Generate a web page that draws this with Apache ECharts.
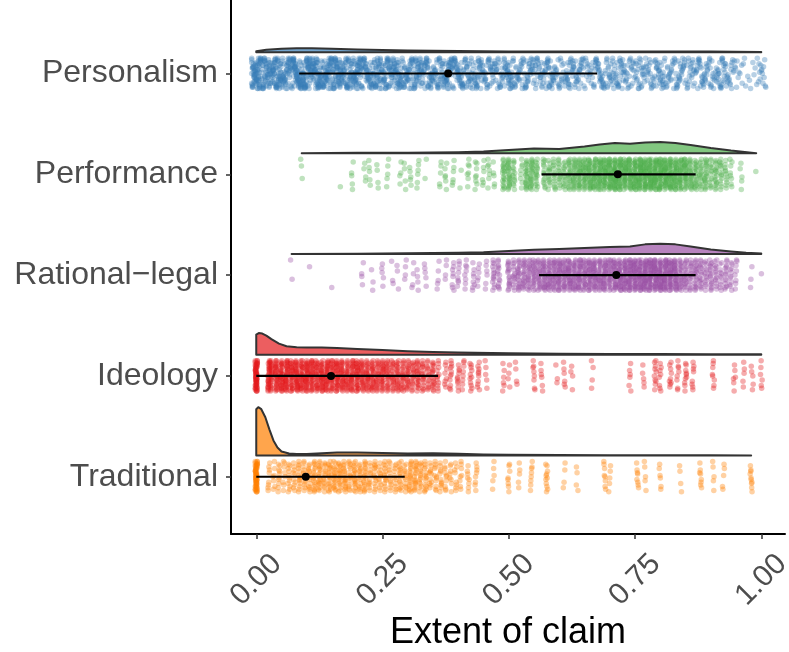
<!DOCTYPE html>
<html>
<head>
<meta charset="utf-8">
<script src="https://cdn.jsdelivr.net/npm/echarts@6/dist/echarts.min.js"></script>
<style>
  html, body { margin: 0; padding: 0; background: #fff; }
  #main { width: 789px; height: 652px; }
</style>
</head>
<body>
<div id="main"></div>
<script>
// categories, top to bottom
var categories = ['Personalism', 'Performance', 'Rational\u2212legal', 'Ideology', 'Traditional'];
var colors = ['#377EB8', '#4DAF4A', '#984EA3', '#E41A1C', '#FF7F00'];
var xTicks = [0, 0.25, 0.5, 0.75, 1];

// mean and interval per category
var means = [0.38, 0.716, 0.713, 0.148, 0.098];
var lower = [0.085, 0.565, 0.56, 0.0, 0.0];
var upper = [0.675, 0.87, 0.87, 0.36, 0.294];

// density outlines (x grid + density)
var persDensX = [0, 0.02, 0.05, 0.08, 0.11, 0.15, 0.2, 0.25, 0.3, 0.4, 0.5, 0.6, 0.7, 0.8, 0.9, 0.95, 1.0];
var persDens = [0.1, 0.25, 0.35, 0.4, 0.4, 0.35, 0.28, 0.22, 0.17, 0.12, 0.09, 0.07, 0.08, 0.09, 0.08, 0.06, 0.03];
var perfDensX = [0.09, 0.2, 0.3, 0.4, 0.45, 0.5, 0.55, 0.6, 0.65, 0.68, 0.71, 0.74, 0.77, 0.8, 0.83, 0.86, 0.9, 0.94, 0.99];
var perfDens = [0, 0.03, 0.05, 0.1, 0.15, 0.3, 0.45, 0.4, 0.65, 0.85, 1.0, 0.92, 1.05, 1.1, 1.0, 0.8, 0.5, 0.25, 0];
var ratDensX = [0.07, 0.2, 0.3, 0.4, 0.45, 0.5, 0.55, 0.6, 0.65, 0.7, 0.74, 0.77, 0.8, 0.83, 0.86, 0.9, 0.94, 0.97, 1.0];
var ratDens = [0, 0.03, 0.06, 0.12, 0.18, 0.3, 0.42, 0.5, 0.6, 0.68, 0.75, 0.95, 1.02, 0.95, 0.75, 0.45, 0.25, 0.12, 0.05];
var ideoDensX = [0, 0.005, 0.012, 0.02, 0.03, 0.045, 0.06, 0.08, 0.1, 0.13, 0.16, 0.2, 0.25, 0.3, 0.35, 0.4, 0.5, 0.6, 0.7, 0.8, 0.9, 1.0];
var ideoDens = [2.0, 2.15, 2.1, 1.9, 1.55, 1.1, 0.85, 0.75, 0.73, 0.72, 0.68, 0.58, 0.46, 0.36, 0.28, 0.22, 0.15, 0.1, 0.08, 0.08, 0.06, 0.04];
var tradDensX = [0, 0.004, 0.01, 0.018, 0.026, 0.034, 0.042, 0.05, 0.065, 0.08, 0.1, 0.13, 0.16, 0.2, 0.25, 0.3, 0.35, 0.4, 0.45, 0.5, 0.6, 0.7, 0.8, 0.9, 0.98];
var tradDens = [4.6, 4.8, 4.6, 3.8, 2.6, 1.5, 0.8, 0.4, 0.2, 0.15, 0.16, 0.23, 0.3, 0.3, 0.25, 0.2, 0.22, 0.17, 0.11, 0.08, 0.06, 0.04, 0.03, 0.02, 0.01];

// raw observations: value and how many cases sit at it
var persVals = [0, 0.02, 0.04, 0.06, 0.08, 0.1, 0.12, 0.14, 0.16, 0.18, 0.2, 0.22, 0.24, 0.26, 0.28, 0.3, 0.32, 0.34, 0.36, 0.38, 0.4, 0.42, 0.44, 0.46, 0.48, 0.5, 0.52, 0.54, 0.56, 0.58, 0.6, 0.62, 0.64, 0.66, 0.68, 0.7, 0.72, 0.74, 0.76, 0.78, 0.8, 0.82, 0.84, 0.86, 0.88, 0.9, 0.92, 0.94, 0.96, 0.98, 1];
var persCounts = [70, 54, 60, 48, 64, 60, 58, 54, 58, 48, 54, 42, 48, 45, 48, 38, 45, 38, 35, 45, 38, 32, 35, 29, 26, 38, 26, 29, 26, 32, 22, 29, 26, 19, 29, 26, 29, 22, 26, 22, 29, 22, 26, 22, 26, 22, 29, 19, 10, 6, 16];
var perfVals = [0.09, 0.165, 0.19, 0.215, 0.225, 0.24, 0.26, 0.285, 0.295, 0.305, 0.32, 0.335, 0.365, 0.375, 0.39, 0.405, 0.42, 0.435, 0.45, 0.46, 0.47, 0.49, 0.5, 0.51, 0.525, 0.535, 0.545, 0.555, 0.57, 0.58, 0.59, 0.6, 0.61, 0.62, 0.63, 0.64, 0.65, 0.66, 0.67, 0.68, 0.69, 0.7, 0.71, 0.72, 0.73, 0.74, 0.75, 0.76, 0.77, 0.78, 0.79, 0.8, 0.81, 0.82, 0.83, 0.84, 0.85, 0.86, 0.87, 0.88, 0.89, 0.9, 0.91, 0.92, 0.93, 0.94, 0.96, 0.99];
var perfCounts = [3, 1, 5, 4, 5, 4, 5, 4, 4, 5, 6, 2, 5, 6, 6, 2, 7, 8, 6, 7, 5, 20, 22, 14, 8, 20, 22, 17, 14, 13, 14, 14, 15, 20, 22, 25, 25, 28, 28, 31, 31, 34, 36, 34, 31, 31, 34, 36, 36, 36, 36, 36, 34, 34, 31, 28, 28, 22, 20, 17, 20, 14, 17, 14, 11, 8, 5, 1];
var ratVals = [0.07, 0.106, 0.148, 0.21, 0.23, 0.25, 0.27, 0.28, 0.295, 0.31, 0.32, 0.335, 0.36, 0.375, 0.39, 0.4, 0.415, 0.43, 0.44, 0.455, 0.47, 0.48, 0.5, 0.51, 0.52, 0.53, 0.54, 0.55, 0.56, 0.57, 0.58, 0.59, 0.6, 0.61, 0.62, 0.63, 0.64, 0.65, 0.66, 0.67, 0.68, 0.69, 0.7, 0.71, 0.72, 0.73, 0.74, 0.75, 0.76, 0.77, 0.78, 0.79, 0.8, 0.81, 0.82, 0.83, 0.84, 0.85, 0.86, 0.87, 0.88, 0.89, 0.9, 0.91, 0.92, 0.93, 0.94, 0.95, 0.98, 1];
var ratCounts = [2, 1, 1, 4, 3, 5, 3, 3, 4, 4, 4, 5, 5, 4, 8, 8, 8, 8, 6, 6, 14, 14, 17, 14, 20, 20, 20, 22, 22, 25, 25, 25, 28, 25, 28, 25, 28, 25, 28, 28, 25, 28, 25, 28, 31, 31, 34, 34, 34, 36, 36, 36, 36, 34, 34, 31, 22, 20, 17, 20, 17, 14, 17, 14, 11, 14, 11, 8, 3, 1];
var ideoVals = [0, 0.025, 0.03, 0.04, 0.05, 0.06, 0.07, 0.08, 0.09, 0.1, 0.11, 0.12, 0.13, 0.14, 0.15, 0.16, 0.17, 0.18, 0.19, 0.2, 0.21, 0.22, 0.23, 0.24, 0.25, 0.26, 0.27, 0.28, 0.29, 0.3, 0.31, 0.32, 0.33, 0.34, 0.35, 0.36, 0.375, 0.385, 0.4, 0.41, 0.425, 0.44, 0.455, 0.49, 0.5, 0.515, 0.55, 0.565, 0.595, 0.61, 0.625, 0.665, 0.74, 0.767, 0.79, 0.8, 0.82, 0.835, 0.85, 0.865, 0.905, 0.947, 0.965, 0.982, 1];
var ideoCounts = [60, 28, 22, 31, 34, 34, 31, 34, 31, 34, 31, 28, 31, 31, 28, 31, 28, 25, 28, 31, 25, 25, 25, 22, 25, 22, 20, 22, 20, 20, 17, 20, 17, 14, 17, 12, 8, 11, 10, 8, 11, 10, 5, 6, 4, 4, 8, 6, 3, 6, 4, 4, 6, 5, 10, 8, 9, 8, 10, 8, 8, 6, 5, 5, 6];
var tradVals = [0, 0.025, 0.035, 0.045, 0.055, 0.065, 0.075, 0.085, 0.095, 0.105, 0.115, 0.125, 0.135, 0.145, 0.155, 0.165, 0.175, 0.185, 0.195, 0.205, 0.215, 0.225, 0.235, 0.245, 0.255, 0.265, 0.275, 0.285, 0.295, 0.305, 0.315, 0.325, 0.335, 0.345, 0.355, 0.365, 0.375, 0.385, 0.395, 0.405, 0.42, 0.435, 0.47, 0.5, 0.52, 0.545, 0.575, 0.61, 0.635, 0.69, 0.7, 0.755, 0.77, 0.8, 0.84, 0.88, 0.905, 0.925, 0.98];
var tradCounts = [60, 8, 7, 10, 8, 11, 10, 14, 12, 14, 17, 17, 14, 17, 17, 17, 17, 14, 17, 14, 17, 11, 14, 11, 14, 11, 11, 14, 12, 17, 17, 14, 14, 11, 11, 11, 10, 8, 8, 8, 8, 8, 5, 8, 5, 8, 11, 4, 4, 8, 5, 8, 5, 6, 4, 8, 5, 5, 10];

// layout constants
var DENS_OFFSET = 0.21;   // cloud sits this far above the rain
var DENS_SCALE = 0.1;
var JIT_H = 0.15;
var JIT_W = [0.009, 0.002, 0.002, 0.002, 0.002];
// fixed jitter pattern for the rain
var JY = [-1, 0.27, -0.55, 0.82, -0.09, 0.64, -0.82, 0.09, 1, -0.36, 0.45, -0.73, 0.18, -0.18, 0.73, -0.45, 0.36, -0.91, 0.55, -0.27, 0.91, -0.64, 0];
var JX = [-1, 0.5, -0.25, 0.75, -0.625, 0.125, 1, -0.5, 0.25, -0.875, 0.625, -0.125, 0.875, -0.375, 0.375, -0.75, 0];

var densX = [persDensX, perfDensX, ratDensX, ideoDensX, tradDensX];
var densY = [persDens, perfDens, ratDens, ideoDens, tradDens];
var vals = [persVals, perfVals, ratVals, ideoVals, tradVals];
var counts = [persCounts, perfCounts, ratCounts, ideoCounts, tradCounts];

var FONT = '"Liberation Sans", Arial, Helvetica, sans-serif';

function rgba(hex, a) {
  var n = parseInt(hex.slice(1), 16);
  return 'rgba(' + (n >> 16) + ',' + ((n >> 8) & 255) + ',' + (n & 255) + ',' + a + ')';
}

function rain(i) {
  var out = [], g = 0;
  for (var k = 0; k < vals[i].length; k++) {
    for (var j = 0; j < counts[i][k]; j++) {
      out.push([vals[i][k] + JX[g % JX.length] * JIT_W[i], i + JY[g % JY.length] * JIT_H]);
      g++;
    }
  }
  return out;
}

var series = [];

// rain
categories.forEach(function (c, i) {
  series.push({
    type: 'scatter',
    name: c,
    data: rain(i),
    symbolSize: 5.5,
    silent: true,
    z: 2,
    itemStyle: { color: rgba(colors[i], 0.45) }
  });
});

// clouds
categories.forEach(function (c, i) {
  series.push({
    type: 'custom',
    coordinateSystem: 'cartesian2d',
    data: [[means[i], i]],
    silent: true,
    z: 3,
    renderItem: function (params, api) {
      var xs = densX[i], ds = densY[i];
      var base = i - DENS_OFFSET;
      var pts = [api.coord([xs[0], base])];
      for (var k = 0; k < xs.length; k++) {
        pts.push(api.coord([xs[k], base - ds[k] * DENS_SCALE]));
      }
      pts.push(api.coord([xs[xs.length - 1], base]));
      return {
        type: 'polygon',
        shape: { points: pts },
        style: { fill: rgba(colors[i], 0.7), stroke: '#333333', lineWidth: 2, lineJoin: 'round' }
      };
    }
  });
});

// interval lines
series.push({
  type: 'custom',
  coordinateSystem: 'cartesian2d',
  data: categories.map(function (c, i) { return [lower[i], upper[i], i]; }),
  silent: true,
  z: 4,
  renderItem: function (params, api) {
    var p1 = api.coord([api.value(0), api.value(2)]);
    var p2 = api.coord([api.value(1), api.value(2)]);
    return {
      type: 'line',
      shape: { x1: p1[0], y1: p1[1], x2: p2[0], y2: p2[1] },
      style: { stroke: '#000', lineWidth: 2.2 }
    };
  }
});

// means
series.push({
  type: 'scatter',
  data: categories.map(function (c, i) { return [means[i], i]; }),
  symbolSize: 8,
  silent: true,
  z: 5,
  itemStyle: { color: '#000', opacity: 1 }
});

var chart = echarts.init(document.getElementById('main'));
chart.setOption({
  animation: false,
  backgroundColor: '#fff',
  grid: { left: 231, right: 4, top: 0, bottom: 118, containLabel: false, outerBoundsMode: 'none' },
  xAxis: {
    type: 'value',
    min: -0.05,
    max: 1.047,
    name: 'Extent of claim',
    nameLocation: 'middle',
    nameGap: 81,
    nameMoveOverlap: false,
    nameTextStyle: { fontSize: 36, color: '#000', fontFamily: FONT },
    axisLine: { onZero: false, lineStyle: { color: '#000', width: 2 } },
    axisTick: { customValues: xTicks, length: 5, lineStyle: { color: '#333', width: 1.5 } },
    axisLabel: {
      customValues: xTicks,
      rotate: 45,
      align: 'center',
      verticalAlign: 'middle',
      margin: 46,
      fontSize: 30,
      color: '#4d4d4d',
      fontFamily: FONT,
      formatter: function (v) { return v.toFixed(2); }
    },
    splitLine: { show: false }
  },
  yAxis: {
    type: 'value',
    inverse: true,
    min: -0.729,
    max: 4.568,
    axisLine: { show: true, onZero: false, lineStyle: { color: '#000', width: 2 } },
    axisTick: { show: true, customValues: [0, 1, 2, 3, 4], length: 5, lineStyle: { color: '#333', width: 1.5 } },
    axisLabel: {
      customValues: [0, 1, 2, 3, 4],
      margin: 13,
      fontSize: 32,
      color: '#4d4d4d',
      fontFamily: FONT,
      formatter: function (v) { return categories[Math.round(v)]; }
    },
    splitLine: { show: false }
  },
  series: series
});
</script>
</body>
</html>
